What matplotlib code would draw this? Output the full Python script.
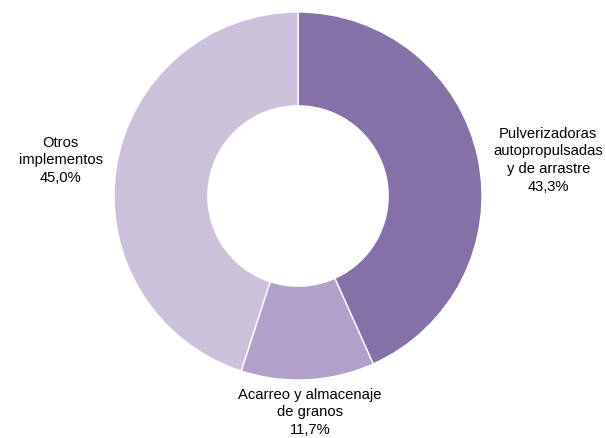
import matplotlib.pyplot as plt
import numpy as np

plt.rcParams['font.family'] = ['Liberation Sans', 'DejaVu Sans']

labels = ['Pulverizadoras\nautopropulsadas\ny de arrastre', 'Acarreo y almacenaje\nde granos', 'Otros\nimplementos']
shares = [43.3, 11.7, 45.0]
colors = ['#8670A8', '#B1A0C7', '#CCC1DA']

# label centres, in units of the pie radius
label_pos = [(1.36, 0.20), (0.065, -1.17), (-1.29, 0.20)]

fig = plt.figure(figsize=(6.06, 4.39), dpi=100)
ax = fig.add_axes([0, 0, 1, 1])

wedges, _ = ax.pie(shares, colors=colors, startangle=90, counterclock=False,
                   radius=1, wedgeprops=dict(width=0.51, edgecolor='white', linewidth=1))

for lab, val, (x, y) in zip(labels, shares, label_pos):
    txt = lab + '\n' + f'{val:.1f}%'.replace('.', ',')
    ax.text(x, y, txt, ha='center', va='center', fontsize=10.6, color='black',
            linespacing=1.33)

r = 184.0
cx, cy = 298, 439 - 197
ax.set_xlim(-cx / r, (606 - cx) / r)
ax.set_ylim(-cy / r, (439 - cy) / r)
ax.set_aspect('equal')
ax.axis('off')

fig.savefig('out.png', dpi=100)
